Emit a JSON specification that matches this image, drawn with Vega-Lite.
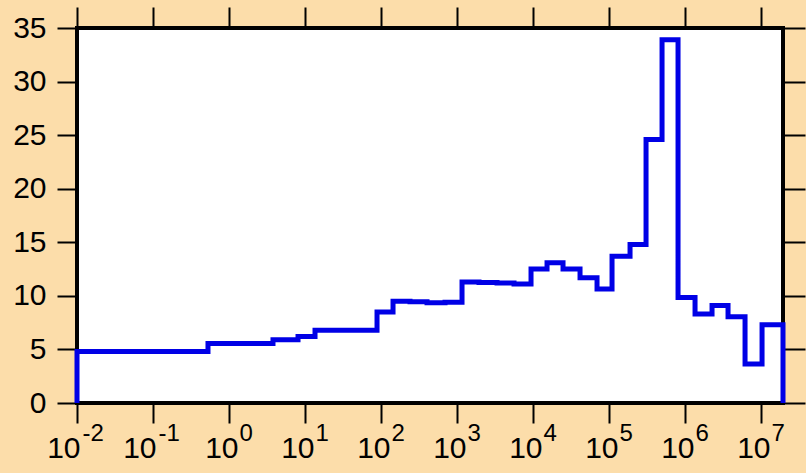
{
  "$schema": "https://vega.github.io/schema/vega-lite/v6.json",
  "width": 706,
  "height": 375,
  "autosize": {"type": "none"},
  "padding": {"left": 77, "top": 28, "right": 23, "bottom": 70},
  "background": "#FCDDAA",
  "config": {
    "view": {"fill": "white", "stroke": "black", "strokeWidth": 4},
    "axis": {
      "labelFont": "Liberation Sans",
      "labelColor": "black",
      "tickColor": "black",
      "tickWidth": 2,
      "tickSize": 20,
      "domain": false,
      "grid": false,
      "title": null,
      "labelOverlap": false,
      "labelBound": false,
      "labelFlush": false
    }
  },
  "data": {
    "values": [
      {"x": 0.01, "y": 0},
      {"x": 0.01, "y": 4.8},
      {"x": 0.529, "y": 5.55},
      {"x": 3.79, "y": 5.9},
      {"x": 8.09, "y": 6.2},
      {"x": 13.54, "y": 6.8},
      {"x": 88.6, "y": 8.5},
      {"x": 143.9, "y": 9.5},
      {"x": 240.7, "y": 9.45},
      {"x": 402.9, "y": 9.35},
      {"x": 695.2, "y": 9.4},
      {"x": 1163.6, "y": 11.3},
      {"x": 1947.6, "y": 11.25},
      {"x": 3360, "y": 11.2},
      {"x": 5623, "y": 11.1},
      {"x": 9412, "y": 12.5},
      {"x": 15285, "y": 13.1},
      {"x": 24813, "y": 12.5},
      {"x": 41540, "y": 11.7},
      {"x": 69520, "y": 10.65},
      {"x": 109520, "y": 13.7},
      {"x": 188980, "y": 14.8},
      {"x": 306850, "y": 24.6},
      {"x": 498300, "y": 33.9},
      {"x": 808900, "y": 9.85},
      {"x": 1354000, "y": 8.3},
      {"x": 2266000, "y": 9.1},
      {"x": 3679000, "y": 8.05},
      {"x": 6159000, "y": 3.65},
      {"x": 10310000, "y": 7.3},
      {"x": 19450000, "y": 7.3},
      {"x": 19450000, "y": 0}
    ]
  },
  "layer": [
    {
      "mark": {"type": "line", "interpolate": "step-after", "color": "#0000E6", "strokeWidth": 5},
      "encoding": {
        "x": {
          "field": "x", "type": "quantitative",
          "scale": {"type": "log", "domain": [0.01, 19450000], "nice": false},
          "axis": {
            "orient": "bottom",
            "values": [0.01, 0.1, 1, 10, 100, 1000, 10000, 100000, 1000000, 10000000],
            "labelExpr": "'10'",
            "labelFontSize": 30,
            "labelAlign": "right",
            "labelBaseline": "alphabetic",
            "labelPadding": 34,
            "labelOffset": {"condition": {"test": "datum.value < 1", "value": 3}, "value": 9}
          }
        },
        "y": {
          "field": "y", "type": "quantitative",
          "scale": {"domain": [0, 35], "nice": false, "zero": false},
          "axis": {
            "orient": "left",
            "values": [0, 5, 10, 15, 20, 25, 30, 35],
            "labelFontSize": 30,
            "labelPadding": 11
          }
        },
        "order": {"value": null}
      }
    },
    {
      "mark": {"type": "line", "interpolate": "step-after", "opacity": 0},
      "encoding": {
        "x": {
          "field": "x", "type": "quantitative",
          "axis": {
            "orient": "bottom",
            "values": [0.01, 0.1, 1, 10, 100, 1000, 10000, 100000, 1000000, 10000000],
            "labelExpr": "'' + round(log(datum.value) / LN10)",
            "labelFontSize": 24,
            "labelAlign": "left",
            "labelBaseline": "alphabetic",
            "labelPadding": 17,
            "tickOpacity": 0,
            "labelOffset": {"condition": {"test": "datum.value < 1", "value": 5}, "value": 10}
          }
        },
        "y": {
          "field": "y", "type": "quantitative",
          "axis": {
            "orient": "right",
            "values": [0, 5, 10, 15, 20, 25, 30, 35],
            "labels": false,
            "tickSize": 22
          }
        },
        "order": {"value": null}
      }
    },
    {
      "mark": {"type": "line", "interpolate": "step-after", "opacity": 0},
      "encoding": {
        "x": {
          "field": "x", "type": "quantitative",
          "axis": {
            "orient": "top",
            "values": [0.01, 0.1, 1, 10, 100, 1000, 10000, 100000, 1000000, 10000000],
            "labels": false,
            "tickSize": 21
          }
        },
        "y": {"field": "y", "type": "quantitative", "axis": null},
        "order": {"value": null}
      }
    }
  ],
  "resolve": {"axis": {"x": "independent", "y": "independent"}}
}
